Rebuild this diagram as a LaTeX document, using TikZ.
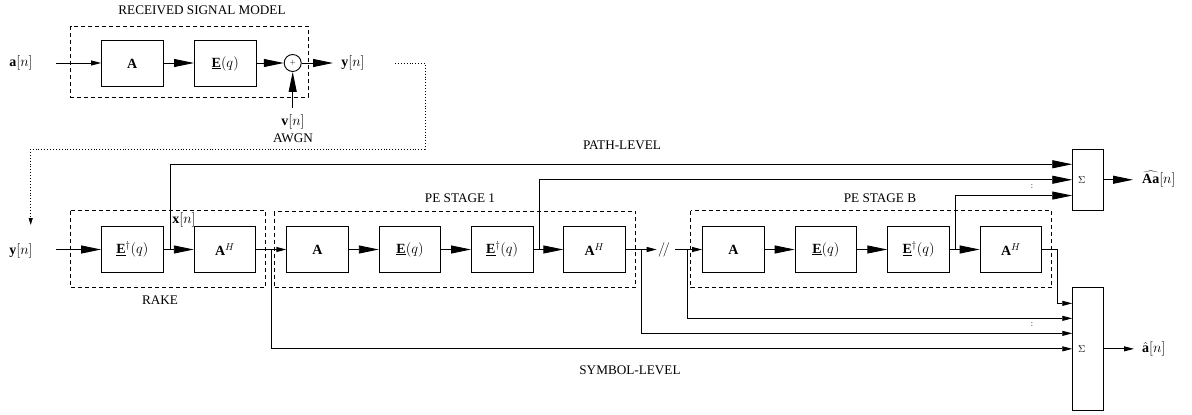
\documentclass[tikz,border=0pt]{standalone}
\usepackage{fontspec}
\setmainfont{Liberation Serif}
\usetikzlibrary{arrows.meta,calc}
\newcommand{\mathsz}{\fontsize{14}{16}\selectfont}
\newcommand{\textsz}{\fontsize{13.2}{15}\selectfont}
\begin{document}
\begin{tikzpicture}[x=1pt,y=-1pt,
  blk/.style={draw,line width=0.9pt,minimum width=61.5pt,minimum height=46pt,inner sep=0pt,font=\mathsz},
  sumbox/.style={draw,line width=0.9pt,minimum width=30.6pt,inner sep=0pt},
  dashbox/.style={draw,line width=0.9pt,dash pattern=on 4pt off 3pt},
  big/.style={line width=0.9pt,-{Triangle[length=20pt,width=8pt]}},
  small/.style={line width=0.9pt,-{Triangle[length=10pt,width=5pt]}},
  lbl/.style={inner sep=1pt,font=\mathsz},
  ttl/.style={inner sep=1pt,font=\textsz},
  dots/.style={inner sep=0pt,font=\fontsize{8}{9}\selectfont}
]
\useasboundingbox (0,0) rectangle (1192,415);

% ---------- received signal model ----------
\node[ttl] (tRSM) at (202,10) {RECEIVED SIGNAL MODEL};
\draw[dashbox] (70.7,26) rectangle (308,97);
\node[lbl] (ain) at (21,62.5) {$\mathbf{a}[n]$};
\coordinate (ainS) at (56,63);
\node[blk] (A0) at (132.3,63.5) {$\mathbf{A}$};
\node[blk] (E0) at (225.2,63.5) {$\underline{\mathbf{E}}(q)$};
\node[draw,circle,line width=0.9pt,minimum size=17pt,inner sep=0pt,font=\fontsize{7}{8}\selectfont] (plus) at (292.7,63) {$+$};
\node[lbl] (yout) at (353,62.5) {$\mathbf{y}[n]$};
\coordinate (youtE) at (333,63);
\node[lbl] (vn) at (293,122) {$\mathbf{v}[n]$};
\coordinate (vnS) at (292.7,108);
\node[ttl] (awgn) at (293,138) {AWGN};

\draw[small] (ainS) -- (A0.west |- ainS);
\draw[big] (A0.east |- plus) -- (E0.west |- plus);
\draw[big] (E0.east |- plus) -- (plus.west);
\draw[big] (plus.east) -- (youtE);
\draw[big] (vnS) -- (plus.south);

% dotted link
\coordinate (dot0) at (395,63);
\coordinate (dotend) at (30.7,225);
\draw[line width=0.9pt,dotted,-{Triangle[length=7pt,width=4pt]}] (dot0) -- (425,63) -- (425,149) -- (30.7,149) -- (dotend);

% ---------- bottom chain ----------
\node[lbl] (yin) at (21,250.7) {$\mathbf{y}[n]$};
\coordinate (yinS) at (56,249.5);

\draw[dashbox] (70.7,210.5) rectangle (265.7,287);
\node[ttl] (tRAKE) at (160,300) {RAKE};
\node[blk] (R1) at (132.3,249.5) {$\underline{\mathbf{E}}^{\dagger}(q)$};
\node[blk] (R2) at (225,249.5) {$\mathbf{A}^{H}$};
\node[lbl] (xn) at (184,220) {$\mathbf{x}[n]$};

\draw[dashbox] (274.3,211.5) rectangle (635.7,287.7);
\node[ttl] (tPE1) at (460,197.7) {PE STAGE 1};
\node[blk] (P1) at (317.5,249.5) {$\mathbf{A}$};
\node[blk] (P2) at (410,249.5) {$\underline{\mathbf{E}}(q)$};
\node[blk] (P3) at (502.2,249.5) {$\underline{\mathbf{E}}^{\dagger}(q)$};
\node[blk] (P4) at (594.5,249.5) {$\mathbf{A}^{H}$};

\draw[dashbox] (690.7,210.7) rectangle (1051.7,287.7);
\node[ttl] (tPEB) at (880,197.7) {PE STAGE B};
\node[blk] (B1) at (733.3,249.5) {$\mathbf{A}$};
\node[blk] (B2) at (825.9,249.5) {$\underline{\mathbf{E}}(q)$};
\node[blk] (B3) at (918.5,249.5) {$\underline{\mathbf{E}}^{\dagger}(q)$};
\node[blk] (B4) at (1010.9,249.5) {$\mathbf{A}^{H}$};

\node[lbl] (brk) at (664,250) {$/\!/$};
\coordinate (brkL) at (656.7,249.5);
\coordinate (brkR) at (675,249.5);

% sum blocks
\node[sumbox,minimum height=61.5pt] (S1) at (1088,179.75) {};
\node[inner sep=0pt,font=\fontsize{10}{12}\selectfont] (S1l) at ($(S1.west)+(9.5,0)$) {$\Sigma$};
\node[sumbox,minimum height=122.3pt] (S2) at (1088,348.85) {};
\node[inner sep=0pt,font=\fontsize{10}{12}\selectfont] (S2l) at ($(S2.west)+(9.5,0)$) {$\Sigma$};

\node[ttl] (tPL) at (622,145) {PATH-LEVEL};
\node[ttl] (tSL) at (630,370) {SYMBOL-LEVEL};

% chain arrows
\draw[big] (yinS) -- (R1.west);
\draw[big] (R1) -- (R2);
\draw[small] (R2) -- (P1);
\draw[big] (P1) -- (P2);
\draw[big] (P2) -- (P3);
\draw[big] (P3) -- (P4);
\draw[small] (P4.east) -- (brkL);
\draw[small] (brkR) -- (B1.west);
\draw[big] (B1) -- (B2);
\draw[big] (B2) -- (B3);
\draw[big] (B3) -- (B4);

% branch points
\coordinate (b1) at (170,249.5);
\coordinate (b2) at (271.7,249.5);
\coordinate (b3) at (539,249.5);
\coordinate (b4) at (641,249.5);
\coordinate (b5) at (687.7,249.5);
\coordinate (b6) at (955,249.5);

% path-level inputs
\draw[big] (b1) |- ([yshift=15.5pt]S1.west);
\draw[big] (b3) |- (S1.west);
\draw[big] (b6) |- ([yshift=-15.8pt]S1.west);
\node[dots] (c1) at (1032,186.7) {:};

% symbol-level inputs
\draw[small] (B4.east) -- ++(15.8,0) |- ([yshift=45.5pt]S2.west);
\draw[small] (b5) |- ([yshift=30.5pt]S2.west);
\draw[small] (b4) |- ([yshift=15.5pt]S2.west);
\draw[small] (b2) |- (S2.west);
\node[dots] (c2) at (1032,325) {:};

% outputs
\coordinate (o1) at (1133,179.75);
\coordinate (o2) at (1134,348.85);
\draw[big] (S1.east) -- (o1);
\draw[small] (S2.east) -- (o2);
\node[lbl,anchor=west] (out1) at (1141,179) {$\widehat{\mathbf{A}\mathbf{a}}[n]$};
\node[lbl,anchor=west] (out2) at (1141,349) {$\hat{\mathbf{a}}[n]$};
\end{tikzpicture}
\end{document}
